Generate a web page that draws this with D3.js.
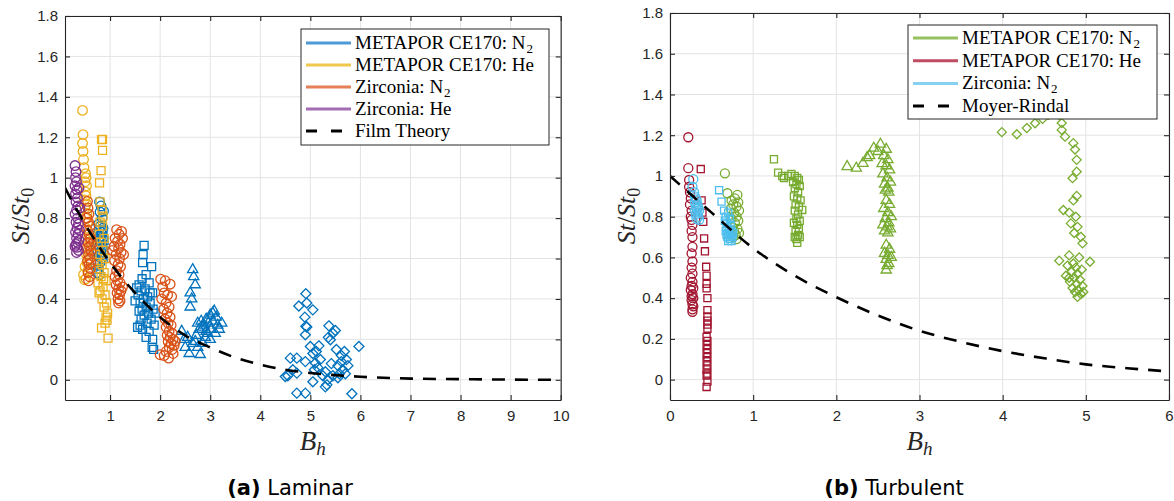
<!DOCTYPE html>
<html>
<head>
<meta charset="utf-8">
<script src="https://cdn.jsdelivr.net/npm/d3@7"></script>
<style>
  body { margin: 0; background: #fff; }
  svg { display: block; }
  .axis text { font-family: "Liberation Sans", Arial, sans-serif; font-size: 15px; fill: #262626; }
  .axis path, .axis line { stroke: #262626; }
  .legend text { font-family: "Liberation Serif", serif; font-size: 19px; fill: #000; }
</style>
</head>
<body>
<div id="chart"></div>
<script>
/******* DATA *******/
var yTicks = [0, 0.2, 0.4, 0.6, 0.8, 1, 1.2, 1.4, 1.6, 1.8];
var lamXTicks = [1, 2, 3, 4, 5, 6, 7, 8, 9, 10];
var turbXTicks = [0, 1, 2, 3, 4, 5, 6];

// (a) Laminar -- [B_h, St/St0]
var lamMetN2Circ = [[0.79,0.88],[0.82,0.86],[0.87,0.835],[0.80,0.83],[0.84,0.80],[0.77,0.77],[0.81,0.76],[0.86,0.75],[0.78,0.74],[0.83,0.73],[0.75,0.72],[0.80,0.71],[0.85,0.70],[0.77,0.69],[0.82,0.68],[0.74,0.67],[0.79,0.66],[0.84,0.65],[0.76,0.64],[0.81,0.63],[0.73,0.62],[0.78,0.61],[0.83,0.60],[0.75,0.59],[0.80,0.58],[0.72,0.57],[0.77,0.55],[0.74,0.53],[0.79,0.52]];
var lamMetN2Sq = [[0.88,0.69],[0.86,0.74],[0.84,0.66],[0.82,0.62],[0.86,0.60],[0.80,0.70],[0.87,0.64],[0.83,0.72],
  [1.68,0.665],[1.66,0.62],[1.65,0.58],[1.83,0.56],[1.72,0.52],[1.64,0.50],[1.58,0.47],[1.78,0.48],[1.53,0.455],[1.70,0.45],[1.62,0.44],[1.85,0.43],[1.56,0.42],[1.75,0.41],[1.67,0.40],[1.50,0.39],[1.60,0.38],[1.80,0.38],[1.72,0.36],[1.64,0.35],[1.86,0.35],[1.58,0.34],[1.77,0.33],[1.68,0.32],[1.62,0.30],[1.82,0.30],[1.74,0.28],[1.88,0.27],[1.55,0.26],[1.65,0.25],[1.78,0.24],[1.72,0.21],[1.85,0.20],[1.87,0.15],[1.84,0.16],[1.60,0.27],[1.90,0.33],[1.80,0.43]];
var lamMetN2Tri = [[2.65,0.545],[2.67,0.51],[2.70,0.47],[2.60,0.43],[2.63,0.40],[2.60,0.36],[2.43,0.24],[2.50,0.16],[2.48,0.20],[2.55,0.21],[2.58,0.13],[2.80,0.125],[2.75,0.16],[2.70,0.19],[2.85,0.18],[2.90,0.21],[2.95,0.23],[3.08,0.34],[3.00,0.32],[2.92,0.30],[3.05,0.29],[3.15,0.27],[3.23,0.28],[2.85,0.26],[2.78,0.25],[2.88,0.27],[3.10,0.23],[3.02,0.25],[2.96,0.28],[3.12,0.31],[2.72,0.22],[2.82,0.29],[3.00,0.20],[2.65,0.18],[2.75,0.28],[3.05,0.33],[2.92,0.24],[3.18,0.25]];
var lamMetN2Dia = [[4.91,0.426],[4.77,0.365],[4.93,0.38],[5.05,0.346],[4.89,0.31],[4.93,0.261],[4.91,0.265],[4.90,0.223],[5.37,0.267],[5.50,0.244],[5.45,0.23],[5.40,0.198],[5.36,0.21],[5.97,0.165],[5.00,0.165],[5.17,0.168],[5.05,0.13],[5.12,0.14],[4.60,0.107],[4.73,0.107],[4.90,0.09],[5.10,0.083],[5.15,0.06],[5.20,0.10],[5.08,0.05],[5.30,0.04],[5.42,0.08],[5.55,0.07],[5.62,0.12],[5.68,0.14],[5.72,0.10],[5.65,0.05],[5.58,0.03],[5.70,0.03],[5.45,0.02],[5.35,0.00],[5.25,0.02],[5.30,-0.035],[5.33,-0.025],[5.05,-0.01],[4.50,0.016],[4.55,0.02],[4.73,0.033],[4.65,0.05],[4.73,-0.066],[4.90,-0.066],[5.83,-0.069],[5.55,0.01],[5.62,0.09],[5.75,0.07],[5.52,0.15]];
var lamMetHeCirc = [[0.45,1.333],[0.46,1.213],[0.45,1.17],[0.46,1.13],[0.47,1.09],[0.48,1.05],[0.51,1.02],[0.52,1.00],[0.50,0.98],[0.53,0.96],[0.51,0.93],[0.52,0.91],[0.49,0.89],[0.53,0.87],[0.50,0.85],[0.54,0.82],[0.51,0.80],[0.55,0.78],[0.52,0.75],[0.54,0.72],[0.50,0.70],[0.55,0.68],[0.52,0.66],[0.56,0.64],[0.53,0.62],[0.57,0.60],[0.54,0.58],[0.50,0.56],[0.56,0.54],[0.47,0.52],[0.52,0.50],[0.49,0.495]];
var lamMetHeSq = [[0.83,1.188],[0.85,1.19],[0.85,1.135],[0.82,1.035],[0.79,0.974],[0.80,0.88],[0.84,0.84],[0.86,0.81],[0.80,0.78],[0.85,0.76],[0.78,0.72],[0.88,0.70],[0.82,0.68],[0.76,0.66],[0.86,0.64],[0.80,0.62],[0.90,0.60],[0.75,0.58],[0.84,0.57],[0.78,0.55],[0.88,0.53],[0.82,0.51],[0.92,0.49],[0.76,0.48],[0.86,0.46],[0.80,0.44],[0.90,0.42],[0.84,0.40],[0.93,0.38],[0.88,0.36],[0.95,0.33],[0.92,0.31],[0.90,0.28],[0.83,0.257],[0.96,0.206],[0.94,0.295],[0.78,0.43],[0.87,0.50]];
var lamZirN2Circ = [[0.55,0.883],[0.56,0.85],[0.58,0.82],[0.54,0.80],[0.57,0.78],[0.60,0.76],[0.55,0.74],[0.58,0.72],[0.61,0.70],[0.56,0.68],[0.59,0.66],[0.62,0.64],[0.57,0.62],[0.60,0.60],[0.55,0.59],[0.58,0.57],[0.61,0.55],[0.56,0.53],[0.59,0.51],[0.57,0.49],[0.60,0.70],[0.63,0.67],[0.54,0.65],[0.62,0.58],
  [1.13,0.743],[1.23,0.734],[1.18,0.72],[1.10,0.70],[1.25,0.70],[1.15,0.685],[1.20,0.67],[1.08,0.66],[1.17,0.65],[1.22,0.63],[1.12,0.62],[1.19,0.60],[1.09,0.59],[1.16,0.57],[1.21,0.56],[1.13,0.54],[1.18,0.52],[1.10,0.51],[1.15,0.49],[1.20,0.48],[1.12,0.47],[1.17,0.45],[1.22,0.44],[1.14,0.43],[1.19,0.42],[1.16,0.40],[1.20,0.39],[1.17,0.38],[1.25,0.46],[1.05,0.64],[1.27,0.62],
  [2.01,0.498],[2.10,0.49],[2.20,0.473],[2.05,0.46],[2.23,0.412],[2.08,0.43],[2.15,0.42],[2.03,0.40],[2.12,0.38],[2.18,0.36],[2.07,0.35],[2.14,0.33],[2.20,0.31],[2.10,0.30],[2.16,0.28],[2.22,0.27],[2.12,0.26],[2.18,0.24],[2.24,0.23],[2.14,0.22],[2.20,0.21],[2.26,0.20],[2.16,0.19],[2.22,0.18],[2.28,0.17],[2.18,0.16],[2.24,0.15],[2.12,0.14],[2.00,0.124],[2.17,0.107],[2.08,0.12],[2.30,0.19],[2.26,0.13]];
var lamZirHeCirc = [[0.30,1.06],[0.32,1.03],[0.31,1.00],[0.33,0.98],[0.30,0.96],[0.34,0.94],[0.31,0.92],[0.35,0.90],[0.32,0.88],[0.36,0.86],[0.33,0.84],[0.30,0.82],[0.35,0.80],[0.32,0.78],[0.37,0.77],[0.34,0.75],[0.31,0.73],[0.36,0.72],[0.33,0.70],[0.38,0.69],[0.35,0.68],[0.32,0.67],[0.30,0.66],[0.34,0.655],[0.37,0.64],[0.33,0.63],[0.39,0.74],[0.40,0.85],[0.38,0.95]];
var filmTheoryB = [0.1, 0.5, 1, 1.5, 2, 2.5, 3, 3.5, 4, 4.5, 5, 6, 7, 8, 9, 10];
var filmTheoryY = [0.95, 0.77, 0.58, 0.43, 0.31, 0.22, 0.16, 0.11, 0.075, 0.05, 0.034, 0.015, 0.006, 0.003, 0.001, 0.0];

// (b) Turbulent -- [B_h, St/St0]
var turbMetN2Circ = [[0.66,1.013],[0.69,0.915],[0.81,0.907],[0.78,0.89],[0.74,0.88],[0.82,0.87],[0.76,0.86],[0.80,0.85],[0.73,0.84],[0.83,0.83],[0.77,0.82],[0.80,0.80],[0.74,0.79],[0.82,0.78],[0.78,0.77],[0.75,0.75],[0.81,0.74],[0.77,0.73],[0.79,0.71],[0.83,0.72],[0.76,0.70],[0.80,0.69]];
var turbMetN2Sq = [[1.25,1.082],[1.30,1.016],[1.37,0.99],[1.42,1.00],[1.46,1.01],[1.50,1.0],[1.53,0.99],[1.55,0.98],[1.48,0.97],[1.52,0.96],[1.56,0.95],[1.50,0.94],[1.54,0.92],[1.49,0.90],[1.53,0.89],[1.57,0.88],[1.51,0.86],[1.55,0.85],[1.59,0.833],[1.50,0.83],[1.54,0.81],[1.52,0.79],[1.56,0.78],[1.49,0.77],[1.53,0.76],[1.55,0.74],[1.51,0.73],[1.54,0.71],[1.50,0.70],[1.56,0.70],[1.53,0.672],[1.52,0.69],[1.35,1.00]];
var turbMetN2Tri = [[2.13,1.046],[2.24,1.038],[2.32,1.062],[2.37,1.09],[2.40,1.10],[2.45,1.136],[2.53,1.156],[2.60,1.131],[2.50,1.12],[2.57,1.10],[2.62,1.08],[2.55,1.06],[2.60,1.05],[2.64,1.03],[2.56,1.01],[2.61,0.99],[2.65,0.97],[2.58,0.96],[2.62,0.94],[2.59,0.93],[2.63,0.92],[2.60,0.88],[2.64,0.86],[2.57,0.84],[2.62,0.82],[2.66,0.80],[2.59,0.79],[2.63,0.77],[2.56,0.76],[2.61,0.75],[2.65,0.74],[2.58,0.73],[2.62,0.72],[2.60,0.66],[2.64,0.64],[2.58,0.62],[2.62,0.61],[2.66,0.60],[2.60,0.59],[2.63,0.57],[2.61,0.56],[2.60,0.538]];
var turbMetN2Dia = [[3.99,1.215],[4.17,1.205],[4.29,1.235],[4.39,1.259],[4.48,1.28],[4.55,1.30],[4.62,1.32],[4.68,1.30],[4.71,1.26],[4.71,1.226],[4.75,1.193],[4.85,1.161],[4.87,1.13],[4.89,1.079],[4.89,1.021],[4.84,0.989],[4.89,0.902],[4.85,0.88],[4.73,0.833],[4.80,0.82],[4.88,0.80],[4.82,0.767],[4.90,0.75],[4.86,0.72],[4.94,0.701],[4.96,0.669],[4.68,0.584],[5.05,0.579],[4.92,0.60],[4.80,0.61],[4.85,0.57],[4.78,0.56],[4.88,0.55],[4.95,0.54],[4.83,0.53],[4.90,0.52],[4.76,0.51],[4.86,0.50],[4.93,0.49],[4.81,0.48],[4.89,0.47],[4.96,0.46],[4.84,0.45],[4.91,0.44],[4.87,0.43],[4.94,0.42],[4.90,0.406],[4.97,0.43],[4.80,0.50]];
var turbMetHeCirc = [[0.22,1.19],[0.22,1.038],[0.23,0.98],[0.23,0.947],[0.24,0.92],[0.25,0.89],[0.24,0.86],[0.26,0.83],[0.25,0.80],[0.26,0.784],[0.27,0.76],[0.26,0.73],[0.27,0.70],[0.27,0.652],[0.26,0.62],[0.27,0.58],[0.26,0.55],[0.27,0.52],[0.25,0.50],[0.27,0.48],[0.26,0.46],[0.28,0.45],[0.25,0.44],[0.27,0.42],[0.26,0.41],[0.28,0.40],[0.26,0.39],[0.27,0.37],[0.28,0.36],[0.27,0.345],[0.27,0.333]];
var turbMetHeSq = [[0.37,1.034],[0.38,0.88],[0.39,0.82],[0.40,0.775],[0.41,0.693],[0.42,0.63],[0.435,0.554],[0.44,0.51],[0.44,0.47],[0.44,0.448],[0.45,0.40],[0.45,0.341],[0.45,0.31],[0.45,0.29],[0.45,0.27],[0.45,0.25],[0.44,0.21],[0.45,0.19],[0.44,0.17],[0.45,0.15],[0.44,0.13],[0.45,0.11],[0.44,0.09],[0.45,0.07],[0.44,0.05],[0.45,0.03],[0.44,0.02],[0.45,-0.01],[0.44,-0.036]];
var turbZirN2Circ = [[0.28,0.984],[0.27,0.947],[0.29,0.92],[0.30,0.90],[0.31,0.89],[0.32,0.88],[0.30,0.87],[0.33,0.86],[0.31,0.85],[0.34,0.845],[0.32,0.84],[0.30,0.83],[0.33,0.82],[0.35,0.83],[0.31,0.81],[0.34,0.80],[0.32,0.79],[0.35,0.785]];
var turbZirN2Sq = [[0.59,0.93],[0.62,0.874],[0.65,0.83],[0.67,0.80],[0.70,0.82],[0.72,0.79],[0.66,0.78],[0.69,0.77],[0.73,0.76],[0.68,0.75],[0.71,0.74],[0.74,0.73],[0.67,0.73],[0.70,0.72],[0.73,0.71],[0.69,0.70],[0.72,0.69],[0.75,0.70],[0.70,0.68],[0.74,0.68],[0.68,0.71],[0.76,0.72]];
var moyerRindalB = [0, 0.5, 1, 1.5, 2, 2.5, 3, 3.5, 4, 4.5, 5, 5.5, 6];
var moyerRindalY = [1.0, 0.82, 0.645, 0.51, 0.405, 0.315, 0.24, 0.185, 0.14, 0.105, 0.075, 0.056, 0.04];

/******* STYLES *******/
var blue = "#0072BD", yellow = "#EDB120", orange = "#D95319", purple = "#7E2F8E";
var green = "#77AC30", red = "#A2142F", ltblue = "#4DBEEE";

var svg = d3.select("#chart")
            .append("svg")
            .attr("width", 1174)
            .attr("height", 501);

var symbols = {
  circle: d3.symbolCircle,
  square: d3.symbolSquare,
  triangle: d3.symbolTriangle,
  diamond: d3.symbolDiamond2
};

function drawPanel(p) {
  var g = svg.append("g").attr("transform", "translate(" + p.left + "," + p.top + ")");

  var x = d3.scaleLinear().domain(p.xDomain).range([0, p.width]);
  var y = d3.scaleLinear().domain([-0.1, 1.8]).range([p.height, 0]);

  // ---- GRID ---- //
  g.append("g").selectAll("line")
      .data(p.xTicks)
      .join("line")
      .attr("x1", function(d) { return x(d); })
      .attr("x2", function(d) { return x(d); })
      .attr("y1", 0)
      .attr("y2", p.height)
      .attr("stroke", "#e3e3e3");

  g.append("g").selectAll("line")
      .data(yTicks)
      .join("line")
      .attr("x1", 0)
      .attr("x2", p.width)
      .attr("y1", function(d) { return y(d); })
      .attr("y2", function(d) { return y(d); })
      .attr("stroke", "#e3e3e3");

  // ---- DRAW MARKERS ---- //
  var clipId = "clip" + p.left;
  g.append("clipPath").attr("id", clipId)
      .append("rect").attr("width", p.width).attr("height", p.height);

  var marks = g.append("g").attr("clip-path", "url(#" + clipId + ")");

  p.groups.forEach(function(grp) {
    var sym = d3.symbol().type(symbols[grp.shape]).size(grp.size);
    marks.append("g").selectAll("path")
        .data(grp.data)
        .join("path")
        .attr("transform", function(d) { return "translate(" + x(d[0]) + "," + y(d[1]) + ")"; })
        .attr("d", sym)
        .attr("fill", "none")
        .attr("stroke", grp.color)
        .attr("stroke-width", 1.3);
  });

  // ---- DASHED CURVE ---- //
  var line = d3.line()
      .x(function(d) { return x(d[0]); })
      .y(function(d) { return y(d[1]); })
      .curve(d3.curveMonotoneX);

  marks.append("path")
      .datum(p.curveB.map(function(b, i) { return [b, p.curveY[i]]; }))
      .attr("d", line)
      .attr("fill", "none")
      .attr("stroke", "#000")
      .attr("stroke-width", 2.6)
      .attr("stroke-dasharray", "13,10");

  // ---- DRAW AXES ---- //
  var fmt = function(d) { return d === 0 ? "0" : String(+d.toFixed(1)); };

  g.append("g")
      .attr("class", "axis")
      .attr("transform", "translate(0," + p.height + ")")
      .call(d3.axisBottom(x).tickValues(p.xTicks).tickSizeInner(-5).tickSizeOuter(0).tickPadding(10).tickFormat(fmt));

  g.append("g")
      .attr("class", "axis")
      .call(d3.axisTop(x).tickValues(p.xTicks).tickSizeInner(-5).tickSizeOuter(0).tickFormat(""));

  g.append("g")
      .attr("class", "axis")
      .call(d3.axisLeft(y).tickValues(yTicks).tickSizeInner(-5).tickSizeOuter(0).tickPadding(7).tickFormat(fmt));

  g.append("g")
      .attr("class", "axis")
      .attr("transform", "translate(" + p.width + ",0)")
      .call(d3.axisRight(y).tickValues(yTicks).tickSizeInner(-5).tickSizeOuter(0).tickFormat(""));

  g.selectAll(".axis path, .axis line").attr("stroke-width", 1.1);

  // ---- AXIS LABELS ---- //
  var xl = svg.append("text")
      .attr("x", p.left + p.width / 2)
      .attr("y", 450)
      .attr("text-anchor", "middle")
      .style("font-family", "Liberation Serif, serif")
      .style("font-size", "27px")
      .style("font-style", "italic")
      .attr("fill", "#262626");
  xl.append("tspan").text("B");
  xl.append("tspan").attr("dy", 5).style("font-size", "19px").text("h");

  var yl = svg.append("text")
      .attr("transform", "translate(" + p.yLabelX + ",216) rotate(-90)")
      .attr("text-anchor", "middle")
      .style("font-family", "Liberation Serif, serif")
      .style("font-size", "26px")
      .attr("fill", "#262626");
  yl.append("tspan").style("font-style", "italic").text("St");
  yl.append("tspan").text("/");
  yl.append("tspan").style("font-style", "italic").text("St");
  yl.append("tspan").attr("dy", 5).style("font-size", "18px").text("0");

  // ---- LEGEND ---- //
  var lg = svg.append("g")
      .attr("class", "legend")
      .attr("transform", "translate(" + p.legend.x + "," + p.legend.y + ")");

  lg.append("rect")
      .attr("width", p.legend.w)
      .attr("height", p.legend.h)
      .attr("fill", "#fff")
      .attr("stroke", "#262626")
      .attr("stroke-width", 1);

  p.legend.rows.forEach(function(r, i) {
    var cy = p.legend.first + i * p.legend.step;
    lg.append("line")
        .attr("x1", 5).attr("x2", r.dash ? 41 : 50)
        .attr("y1", cy).attr("y2", cy)
        .attr("stroke", r.color)
        .attr("stroke-width", 3)
        .attr("stroke-dasharray", r.dash ? "11,14" : null);
    var t = lg.append("text")
        .attr("x", 54)
        .attr("y", cy + 6);
    t.append("tspan").text(r.label);
    if (r.sub) t.append("tspan").attr("dx", 1).attr("dy", 4).style("font-size", "13px").text(r.sub);
  });

  // ---- CAPTION ---- //
  var cap = svg.append("text")
      .attr("x", p.captionX)
      .attr("y", 495)
      .attr("text-anchor", "middle")
      .style("font-family", "DejaVu Sans, sans-serif")
      .style("font-size", "21px")
      .attr("fill", "#000");
  cap.append("tspan").style("font-weight", "bold").text(p.captionTag);
  cap.append("tspan").text(" " + p.captionText);
}

drawPanel({
  left: 65, top: 16, width: 495.7, height: 384,
  xDomain: [0.1, 10], xTicks: lamXTicks,
  groups: [
    { data: lamMetN2Circ, shape: "circle", size: 72, color: blue },
    { data: lamMetN2Sq, shape: "square", size: 64, color: blue },
    { data: lamMetN2Tri, shape: "triangle", size: 46, color: blue },
    { data: lamMetN2Dia, shape: "diamond", size: 64, color: blue },
    { data: lamMetHeCirc, shape: "circle", size: 72, color: yellow },
    { data: lamMetHeSq, shape: "square", size: 64, color: yellow },
    { data: lamZirN2Circ, shape: "circle", size: 72, color: orange },
    { data: lamZirHeCirc, shape: "circle", size: 72, color: purple }
  ],
  curveB: filmTheoryB, curveY: filmTheoryY,
  yLabelX: 29,
  legend: { x: 301, y: 29, w: 248, h: 116, first: 14, step: 22,
    rows: [
      { label: "METAPOR CE170: N", sub: "2", color: "#4d9ad6" },
      { label: "METAPOR CE170: He", color: "#f1c84e" },
      { label: "Zirconia: N", sub: "2", color: "#e47f57" },
      { label: "Zirconia: He", color: "#a46cb1" },
      { label: "Film Theory", color: "#000", dash: true }
    ] },
  captionX: 290, captionTag: "(a)", captionText: "Laminar"
});

drawPanel({
  left: 670, top: 13, width: 499, height: 387,
  xDomain: [0, 6], xTicks: turbXTicks,
  groups: [
    { data: turbMetN2Circ, shape: "circle", size: 64, color: green },
    { data: turbMetN2Sq, shape: "square", size: 50, color: green },
    { data: turbMetN2Tri, shape: "triangle", size: 46, color: green },
    { data: turbMetN2Dia, shape: "diamond", size: 52, color: green },
    { data: turbMetHeCirc, shape: "circle", size: 64, color: red },
    { data: turbMetHeSq, shape: "square", size: 50, color: red },
    { data: turbZirN2Circ, shape: "circle", size: 64, color: ltblue },
    { data: turbZirN2Sq, shape: "square", size: 50, color: ltblue }
  ],
  curveB: moyerRindalB, curveY: moyerRindalY,
  yLabelX: 635,
  legend: { x: 908, y: 25, w: 249, h: 94, first: 13, step: 22.7,
    rows: [
      { label: "METAPOR CE170: N", sub: "2", color: "#97c160" },
      { label: "METAPOR CE170: He", color: "#c04c63" },
      { label: "Zirconia: N", sub: "2", color: "#86d0f0" },
      { label: "Moyer-Rindal", color: "#000", dash: true }
    ] },
  captionX: 894, captionTag: "(b)", captionText: "Turbulent"
});
</script>
</body>
</html>
